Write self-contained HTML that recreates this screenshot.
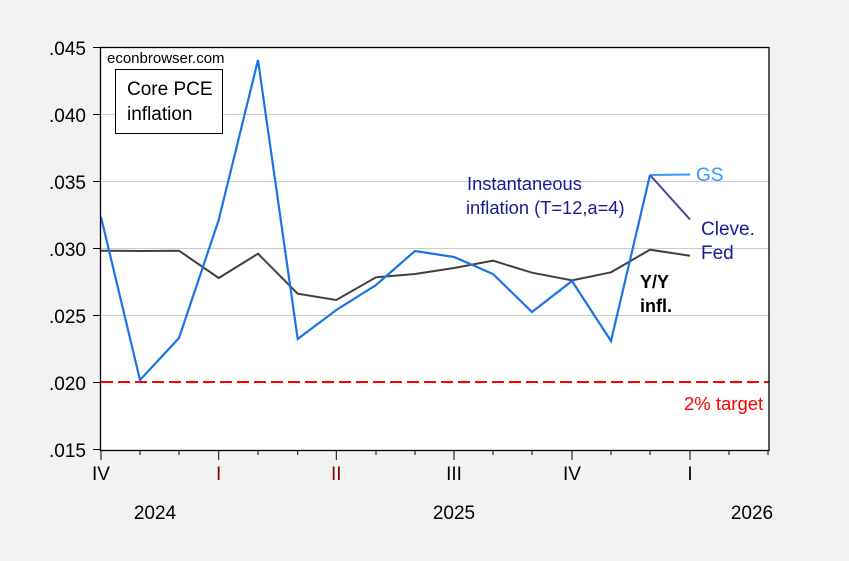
<!DOCTYPE html>
<html><head><meta charset="utf-8"><style>
html,body{margin:0;padding:0;background:#f2f2f2;}
svg{display:block;font-family:"Liberation Sans",Arial,sans-serif;}
</style></head><body>
<svg width="849" height="561" viewBox="0 0 849 561">
<rect x="0" y="0" width="849" height="561" fill="#f2f2f2"/>
<rect x="100.5" y="47.5" width="668.5" height="403" fill="#fff"/>
<g stroke="#cccccc" stroke-width="1">
<line x1="101" x2="769" y1="114.5" y2="114.5"/>
<line x1="101" x2="769" y1="181.5" y2="181.5"/>
<line x1="101" x2="769" y1="248.5" y2="248.5"/>
<line x1="101" x2="769" y1="315.5" y2="315.5"/>
</g>
<line x1="101" x2="769" y1="382" y2="382" stroke="#ff0000" stroke-width="2" stroke-dasharray="12,5"/>
<polyline fill="none" stroke="#404040" stroke-width="2" points="101,250.7 140,251 179,250.7 218.7,278 258,253.7 297.7,293.7 336.3,300 376,277.3 415,274 454,268 493,260.7 532,272.7 572,280.3 611,272.3 650,249.7 690,255.7"/>
<line x1="650" y1="175" x2="690" y2="219.5" stroke="#4a3fa0" stroke-width="2"/>
<line x1="650" y1="175" x2="690" y2="174.5" stroke="#3399ff" stroke-width="2"/>
<polyline fill="none" stroke="#1a73e8" stroke-width="2.2" points="101,217 140,380 179,338 218.7,220 258,60 297.7,339 336.3,310 376,285 415,251 454,257 493,274 532,312 572,281 611,341 650,175"/>
<rect x="100.5" y="47.5" width="668.5" height="403" fill="none" stroke="#000" stroke-width="1.3"/>
<g fill="#000" font-size="19" text-anchor="end">
<text x="86" y="55">.045</text>
<text x="86" y="122">.040</text>
<text x="86" y="189">.035</text>
<text x="86" y="256">.030</text>
<text x="86" y="323">.025</text>
<text x="86" y="390">.020</text>
<text x="86" y="457">.015</text>
</g>
<g stroke="#000" stroke-width="1">
<line x1="93" x2="100" y1="47.5" y2="47.5"/><line x1="93" x2="100" y1="114.5" y2="114.5"/><line x1="93" x2="100" y1="181.5" y2="181.5"/><line x1="93" x2="100" y1="248.5" y2="248.5"/><line x1="93" x2="100" y1="315.5" y2="315.5"/><line x1="93" x2="100" y1="382.5" y2="382.5"/><line x1="93" x2="100" y1="449.5" y2="449.5"/>
<line x1="101" x2="101" y1="451" y2="460"/>
<line x1="140" x2="140" y1="451" y2="455"/><line x1="179" x2="179" y1="451" y2="455"/>
<line x1="218.7" x2="218.7" y1="451" y2="460"/>
<line x1="258" x2="258" y1="451" y2="455"/><line x1="297.7" x2="297.7" y1="451" y2="455"/>
<line x1="336.3" x2="336.3" y1="451" y2="460"/>
<line x1="376" x2="376" y1="451" y2="455"/><line x1="415" x2="415" y1="451" y2="455"/>
<line x1="454" x2="454" y1="451" y2="460"/>
<line x1="493" x2="493" y1="451" y2="455"/><line x1="532" x2="532" y1="451" y2="455"/>
<line x1="572" x2="572" y1="451" y2="460"/>
<line x1="611" x2="611" y1="451" y2="455"/><line x1="650" x2="650" y1="451" y2="455"/>
<line x1="690" x2="690" y1="451" y2="460"/>
<line x1="729" x2="729" y1="451" y2="455"/><line x1="768" x2="768" y1="451" y2="455"/>
</g>
<g font-size="19" text-anchor="middle">
<text x="101" y="480" fill="#000">IV</text>
<text x="218.7" y="480" fill="#8b0000">I</text>
<text x="336.3" y="480" fill="#8b0000">II</text>
<text x="454" y="480" fill="#000">III</text>
<text x="572" y="480" fill="#000">IV</text>
<text x="690" y="480" fill="#000">I</text>
<text x="155" y="519" fill="#000">2024</text>
<text x="454" y="519" fill="#000">2025</text>
<text x="752" y="519" fill="#000">2026</text>
</g>
<text x="107" y="63" font-size="15" fill="#000">econbrowser.com</text>
<rect x="115.5" y="69.5" width="107" height="64" fill="#fff" stroke="#000" stroke-width="1"/>
<text x="127" y="95" font-size="19" fill="#000">Core PCE</text>
<text x="127" y="120" font-size="19" fill="#000">inflation</text>
<text x="467" y="190" font-size="18.3" fill="#1a1a9a">Instantaneous</text>
<text x="466" y="214" font-size="18.3" fill="#1a1a9a">inflation (T=12,a=4)</text>
<text x="696" y="181" font-size="19" fill="#3399ff">GS</text>
<text x="701" y="235" font-size="19" fill="#1a1a9a">Cleve.</text>
<text x="701" y="259" font-size="19" fill="#1a1a9a">Fed</text>
<text x="640" y="288" font-size="18" font-weight="bold" fill="#000">Y/Y</text>
<text x="640" y="312" font-size="18" font-weight="bold" fill="#000">infl.</text>
<text x="684" y="410" font-size="18.5" fill="#ff0000">2% target</text>
</svg>
</body></html>
